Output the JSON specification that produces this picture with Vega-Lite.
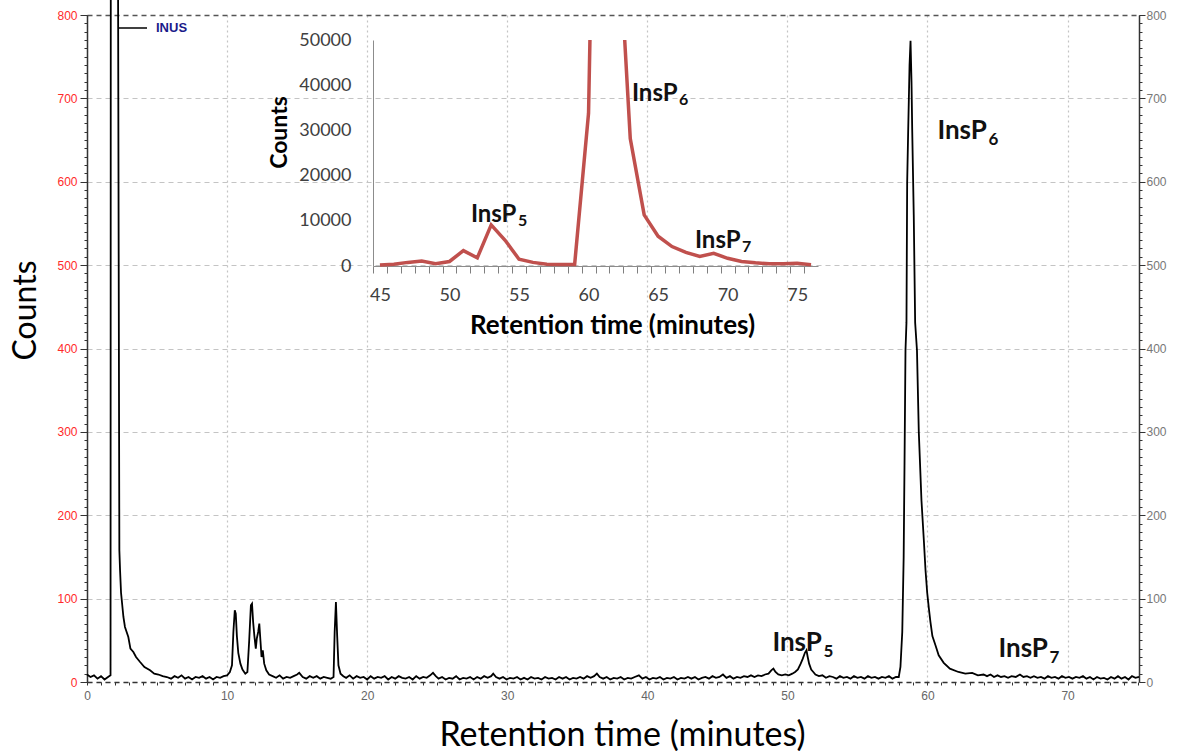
{
  "$schema": "https://vega.github.io/schema/vega-lite/v6.json",
  "width": 1052,
  "height": 667,
  "autosize": {"type": "none"},
  "padding": {"left": 87, "top": 15, "right": 49, "bottom": 69},
  "background": "white",
  "config": {
    "view": {"stroke": null},
    "axis": {"labelFont": "Liberation Sans", "titleFont": "Lato", "labelOverlap": false, "labelFlush": false}
  },
  "datasets": {
    "main": [
      {"t":0,"c":9},{"t":0.25,"c":6},{"t":0.5,"c":8},{"t":0.75,"c":4},{"t":1.0,"c":7},{"t":1.25,"c":3},{"t":1.5,"c":6},{"t":1.68,"c":8},
      {"t":1.71,"c":1400},{"t":1.95,"c":1500},{"t":2.14,"c":1400},
      {"t":2.31,"c":158},{"t":2.36,"c":134},{"t":2.43,"c":107},{"t":2.6,"c":78},{"t":2.71,"c":66},{"t":2.95,"c":54},{"t":3.1,"c":40},{"t":3.31,"c":36},{"t":3.5,"c":30},{"t":3.79,"c":24},{"t":4.1,"c":18},{"t":4.5,"c":14},{"t":4.8,"c":10},{"t":5.1,"c":9},{"t":5.4,"c":7},{"t":5.7,"c":6},
      {"t":6.0,"c":4},{"t":6.25,"c":7},{"t":6.5,"c":5},{"t":6.75,"c":8},{"t":7.0,"c":4},{"t":7.25,"c":6},{"t":7.5,"c":3},{"t":7.75,"c":6},{"t":8.0,"c":5},{"t":8.25,"c":7},{"t":8.5,"c":4},{"t":8.75,"c":6},{"t":9.0,"c":3},{"t":9.25,"c":6},{"t":9.5,"c":5},{"t":9.75,"c":7},{"t":10.0,"c":8},{"t":10.2,"c":12},
      {"t":10.35,"c":20},{"t":10.45,"c":60},{"t":10.55,"c":86},{"t":10.62,"c":82},{"t":10.7,"c":55},{"t":10.8,"c":35},{"t":10.95,"c":22},{"t":11.1,"c":15},{"t":11.3,"c":10},{"t":11.45,"c":12},
      {"t":11.58,"c":50},{"t":11.7,"c":92},{"t":11.78,"c":94},{"t":11.86,"c":72},{"t":11.95,"c":55},{"t":12.05,"c":40},{"t":12.12,"c":52},{"t":12.22,"c":60},{"t":12.3,"c":70},{"t":12.38,"c":50},{"t":12.46,"c":30},{"t":12.55,"c":38},{"t":12.65,"c":22},{"t":12.8,"c":14},{"t":13.0,"c":9},{"t":13.25,"c":7},
      {"t":13.5,"c":5},{"t":13.75,"c":8},{"t":14.0,"c":4},{"t":14.25,"c":6},{"t":14.5,"c":5},{"t":14.75,"c":7},{"t":15.0,"c":9},{"t":15.15,"c":11},{"t":15.4,"c":6},{"t":15.65,"c":4},{"t":15.9,"c":7},{"t":16.15,"c":5},{"t":16.4,"c":7},{"t":16.65,"c":4},{"t":16.9,"c":6},{"t":17.15,"c":5},{"t":17.4,"c":4},{"t":17.6,"c":6},
      {"t":17.68,"c":60},{"t":17.77,"c":96},{"t":17.86,"c":55},{"t":17.95,"c":20},{"t":18.1,"c":10},{"t":18.3,"c":7},
      {"t":18.5,"c":5},{"t":18.75,"c":8},{"t":19.0,"c":4},{"t":19.25,"c":7},{"t":19.5,"c":5},{"t":19.75,"c":6},{"t":20.0,"c":3},{"t":20.25,"c":7},{"t":20.5,"c":4},{"t":20.75,"c":6},{"t":21.0,"c":5},{"t":21.25,"c":7},{"t":21.5,"c":3},{"t":21.75,"c":6},{"t":22.0,"c":4},{"t":22.25,"c":7},{"t":22.5,"c":5},{"t":22.75,"c":4},{"t":23.0,"c":6},{"t":23.25,"c":3},{"t":23.5,"c":7},{"t":23.75,"c":4},{"t":24.0,"c":6},{"t":24.25,"c":5},{"t":24.5,"c":8},{"t":24.7,"c":11},{"t":24.9,"c":7},
      {"t":25.1,"c":4},{"t":25.35,"c":6},{"t":25.6,"c":3},{"t":25.85,"c":5},{"t":26.1,"c":4},{"t":26.35,"c":7},{"t":26.6,"c":3},{"t":26.85,"c":5},{"t":27.1,"c":4},{"t":27.35,"c":6},{"t":27.6,"c":3},{"t":27.85,"c":6},{"t":28.1,"c":4},{"t":28.35,"c":7},{"t":28.6,"c":5},{"t":28.85,"c":7},{"t":29.0,"c":10},{"t":29.2,"c":6},{"t":29.45,"c":4},{"t":29.7,"c":6},{"t":29.95,"c":3},
      {"t":30.2,"c":5},{"t":30.45,"c":4},{"t":30.7,"c":6},{"t":30.95,"c":3},{"t":31.2,"c":5},{"t":31.45,"c":3},{"t":31.7,"c":6},{"t":31.95,"c":4},{"t":32.2,"c":5},{"t":32.45,"c":3},{"t":32.7,"c":6},{"t":32.95,"c":4},{"t":33.2,"c":5},{"t":33.45,"c":3},{"t":33.7,"c":6},{"t":33.95,"c":4},{"t":34.2,"c":6},{"t":34.45,"c":3},{"t":34.7,"c":5},{"t":34.95,"c":4},
      {"t":35.2,"c":6},{"t":35.45,"c":4},{"t":35.7,"c":7},{"t":35.95,"c":5},{"t":36.2,"c":7},{"t":36.4,"c":10},{"t":36.6,"c":6},{"t":36.85,"c":4},{"t":37.1,"c":6},{"t":37.35,"c":3},{"t":37.6,"c":5},{"t":37.85,"c":4},{"t":38.1,"c":6},{"t":38.35,"c":3},{"t":38.6,"c":5},{"t":38.85,"c":4},{"t":39.1,"c":6},{"t":39.4,"c":8},{"t":39.65,"c":4},{"t":39.9,"c":6},
      {"t":40.15,"c":3},{"t":40.4,"c":5},{"t":40.65,"c":4},{"t":40.9,"c":6},{"t":41.15,"c":3},{"t":41.4,"c":5},{"t":41.65,"c":4},{"t":41.9,"c":6},{"t":42.15,"c":3},{"t":42.4,"c":5},{"t":42.65,"c":4},{"t":42.9,"c":6},{"t":43.15,"c":4},{"t":43.4,"c":6},{"t":43.65,"c":3},{"t":43.9,"c":5},{"t":44.15,"c":6},{"t":44.4,"c":4},{"t":44.65,"c":7},{"t":44.9,"c":5},
      {"t":45.15,"c":6},{"t":45.4,"c":9},{"t":45.65,"c":5},{"t":45.9,"c":7},{"t":46.15,"c":4},{"t":46.4,"c":6},{"t":46.65,"c":5},{"t":46.9,"c":7},{"t":47.15,"c":6},{"t":47.4,"c":8},{"t":47.65,"c":6},{"t":47.9,"c":8},{"t":48.15,"c":7},{"t":48.4,"c":9},{"t":48.65,"c":10},{"t":48.85,"c":14},{"t":49.0,"c":16},{"t":49.15,"c":12},{"t":49.35,"c":9},{"t":49.6,"c":8},{"t":49.85,"c":9},
      {"t":50.1,"c":8},{"t":50.35,"c":10},{"t":50.55,"c":12},{"t":50.75,"c":15},{"t":50.95,"c":22},{"t":51.1,"c":28},{"t":51.25,"c":35},{"t":51.36,"c":38},{"t":51.45,"c":30},{"t":51.55,"c":22},{"t":51.7,"c":15},{"t":51.85,"c":12},{"t":52.0,"c":9},{"t":52.25,"c":7},{"t":52.5,"c":8},{"t":52.75,"c":5},{"t":53.0,"c":7},{"t":53.25,"c":6},{"t":53.5,"c":4},{"t":53.75,"c":7},
      {"t":54.0,"c":5},{"t":54.25,"c":6},{"t":54.5,"c":4},{"t":54.75,"c":7},{"t":55.0,"c":5},{"t":55.25,"c":6},{"t":55.5,"c":4},{"t":55.75,"c":7},{"t":56.0,"c":5},{"t":56.25,"c":6},{"t":56.5,"c":4},{"t":56.75,"c":6},{"t":57.0,"c":5},{"t":57.25,"c":7},{"t":57.5,"c":4},{"t":57.75,"c":6},{"t":57.95,"c":6},
      {"t":58.07,"c":18},{"t":58.2,"c":60},{"t":58.3,"c":150},{"t":58.36,"c":260},{"t":58.43,"c":398},{"t":58.5,"c":431},{"t":58.55,"c":599},{"t":58.62,"c":659},{"t":58.72,"c":740},{"t":58.79,"c":769},{"t":58.86,"c":720},{"t":58.91,"c":662},{"t":59.02,"c":560},{"t":59.12,"c":431},{"t":59.25,"c":398},{"t":59.38,"c":300},{"t":59.57,"c":218},{"t":59.74,"c":170},{"t":59.86,"c":134},{"t":59.98,"c":107},{"t":60.1,"c":88},{"t":60.21,"c":72},{"t":60.35,"c":55},{"t":60.57,"c":44},{"t":60.8,"c":32},{"t":61.16,"c":23},{"t":61.6,"c":16},{"t":62.21,"c":12},{"t":62.7,"c":10},{"t":63.19,"c":11},{"t":63.6,"c":8},
      {"t":64.0,"c":9},{"t":64.25,"c":7},{"t":64.5,"c":9},{"t":64.75,"c":6},{"t":65.0,"c":8},{"t":65.25,"c":6},{"t":65.5,"c":7},{"t":65.75,"c":5},{"t":66.0,"c":7},{"t":66.3,"c":6},{"t":66.6,"c":9},{"t":66.85,"c":6},{"t":67.1,"c":7},{"t":67.35,"c":5},{"t":67.6,"c":7},{"t":67.85,"c":5},{"t":68.1,"c":6},{"t":68.35,"c":4},{"t":68.6,"c":7},{"t":68.85,"c":5},{"t":69.1,"c":6},{"t":69.35,"c":4},{"t":69.6,"c":7},{"t":69.85,"c":5},
      {"t":70.1,"c":6},{"t":70.35,"c":4},{"t":70.6,"c":6},{"t":70.85,"c":5},{"t":71.1,"c":7},{"t":71.35,"c":4},{"t":71.6,"c":6},{"t":71.85,"c":3},{"t":72.1,"c":6},{"t":72.35,"c":4},{"t":72.6,"c":5},{"t":72.85,"c":3},{"t":73.1,"c":6},{"t":73.35,"c":4},{"t":73.6,"c":7},{"t":73.85,"c":4},{"t":74.1,"c":6},{"t":74.35,"c":3},{"t":74.6,"c":7},{"t":74.85,"c":5},{"t":75.1,"c":6}
    ],
    "inset": [
      {"seg":"a","t":45,"c":200},{"seg":"a","t":46,"c":400},{"seg":"a","t":47,"c":800},{"seg":"a","t":48,"c":1100},{"seg":"a","t":49,"c":500},{"seg":"a","t":50,"c":1000},{"seg":"a","t":51,"c":3400},{"seg":"a","t":52,"c":1800},{"seg":"a","t":53,"c":9100},{"seg":"a","t":54,"c":5700},{"seg":"a","t":55,"c":1500},{"seg":"a","t":56,"c":800},{"seg":"a","t":57,"c":400},{"seg":"a","t":58,"c":350},{"seg":"a","t":59,"c":350},{"seg":"a","t":60,"c":33800},{"seg":"a","t":60.1,"c":50000},
      {"seg":"b","t":62.6,"c":50000},{"seg":"b","t":63,"c":28200},{"seg":"b","t":64,"c":11300},{"seg":"b","t":65,"c":6600},{"seg":"b","t":66,"c":4300},{"seg":"b","t":67,"c":3000},{"seg":"b","t":68,"c":2100},{"seg":"b","t":69,"c":2800},{"seg":"b","t":70,"c":1700},{"seg":"b","t":71,"c":1000},{"seg":"b","t":72,"c":700},{"seg":"b","t":73,"c":500},{"seg":"b","t":74,"c":500},{"seg":"b","t":75,"c":600},{"seg":"b","t":76,"c":300}
    ],
    "mainLabels": [
      {"t":60.71,"c":651,"txt":"InsP","sub":"6"},
      {"t":48.93,"c":37,"txt":"InsP","sub":"5"},
      {"t":65.07,"c":30,"txt":"InsP","sub":"7"}
    ],
    "insetLabels": [
      {"t":51.54,"c":9735,"txt":"InsP","sub":"5"},
      {"t":63.12,"c":36500,"txt":"InsP","sub":"6"},
      {"t":67.65,"c":3980,"txt":"InsP","sub":"7"}
    ]
  },
  "layer": [
    {
      "layer": [
        {
          "data": {"name": "main"},
          "mark": {"type": "line", "strokeWidth": 1.8, "clip": false},
          "encoding": {
            "x": {"field": "t", "type": "quantitative", "scale": {"domain": [0, 75.1], "nice": false, "zero": false},
              "axis": {"orient": "bottom", "values": [0,10,20,30,40,50,60,70], "grid": true, "gridDash": [2,3], "gridColor": "#c4c4c4", "gridWidth": 1.2, "domainDash": [5,4], "domainColor": "#333333", "domainWidth": 1.3, "tickSize": 0, "labelColor": "#666666", "labelFontSize": 12, "labelPadding": 8, "title": "Retention time (minutes)", "titleFontSize": 34, "titleFontWeight": "normal", "titleColor": "#000000", "titleX": 535, "titleY": 53, "titleBaseline": "middle"}},
            "y": {"field": "c", "type": "quantitative", "scale": {"domain": [0, 800], "nice": false},
              "axis": {"orient": "left", "values": [0,100,200,300,400,500,600,700,800], "grid": true, "gridDash": [5,4], "gridColor": {"condition": {"test": "datum.value === 800", "value": "#555555"}, "value": "#c4c4c4"}, "gridWidth": {"condition": {"test": "datum.value === 800", "value": 1.5}, "value": 1.2}, "domainColor": "#333333", "domainWidth": 1.5, "tickColor": "#333333", "tickSize": 7, "labelColor": "#ff2a2a", "labelFontSize": 12, "labelPadding": 3, "title": "Counts", "titleFontSize": 32, "titleFontWeight": "normal", "titleColor": "#000000", "titleX": -62, "titleY": 295, "titleBaseline": "middle", "titleAngle": -90}},
            "color": {"datum": "INUS", "scale": {"range": ["#000000"]},
              "legend": {"orient": "none", "legendX": 31, "legendY": -2, "title": null, "symbolType": "stroke", "symbolSize": 784, "symbolStrokeWidth": 1.5, "labelFont": "Liberation Sans", "labelFontWeight": "bold", "labelFontSize": 13, "labelColor": "#1a1a8a", "padding": 0, "labelOffset": 8}}
          }
        },
        {
          "data": {"name": "mainLabels"},
          "mark": {"type": "text", "align": "left", "baseline": "alphabetic", "font": "Lato", "fontWeight": "bold", "fontSize": 26, "color": "#111111"},
          "encoding": {
            "x": {"field": "t", "type": "quantitative", "scale": {"domain": [0, 75.1], "nice": false, "zero": false},
              "axis": {"orient": "bottom", "values": [0,1,2,3,4,5,6,7,8,9,10,11,12,13,14,15,16,17,18,19,20,21,22,23,24,25,26,27,28,29,30,31,32,33,34,35,36,37,38,39,40,41,42,43,44,45,46,47,48,49,50,51,52,53,54,55,56,57,58,59,60,61,62,63,64,65,66,67,68,69,70,71,72,73,74,75], "labels": false, "grid": false, "domain": false, "tickSize": 3, "tickColor": "#333333", "title": null}},
            "y": {"field": "c", "type": "quantitative", "scale": {"domain": [0, 800], "nice": false},
              "axis": {"orient": "left", "values": [0,10,20,30,40,50,60,70,80,90,100,110,120,130,140,150,160,170,180,190,200,210,220,230,240,250,260,270,280,290,300,310,320,330,340,350,360,370,380,390,400,410,420,430,440,450,460,470,480,490,500,510,520,530,540,550,560,570,580,590,600,610,620,630,640,650,660,670,680,690,700,710,720,730,740,750,760,770,780,790,800], "labels": false, "grid": false, "domain": false, "tickSize": 3, "tickColor": "#333333", "title": null}},
            "text": {"field": "txt"}
          }
        },
        {
          "data": {"name": "mainLabels"},
          "mark": {"type": "text", "align": "left", "baseline": "alphabetic", "font": "Lato", "fontWeight": "bold", "fontSize": 17, "color": "#111111", "dx": 51, "dy": 6},
          "encoding": {
            "x": {"field": "t", "type": "quantitative", "scale": {"domain": [0, 75.1], "nice": false, "zero": false}, "axis": null},
            "y": {"field": "c", "type": "quantitative", "scale": {"domain": [0, 800], "nice": false},
              "axis": {"orient": "right", "values": [0,100,200,300,400,500,600,700,800], "grid": false, "domainColor": "#333333", "domainWidth": 1.5, "tickColor": "#333333", "tickSize": 6, "labelColor": "#777777", "labelFontSize": 12, "labelPadding": 1, "title": null}},
            "text": {"field": "sub"}
          }
        },
        {
          "data": {"name": "mainLabels"},
          "mark": {"type": "point", "opacity": 0},
          "encoding": {
            "x": {"field": "t", "type": "quantitative", "scale": {"domain": [0, 75.1], "nice": false, "zero": false}, "axis": null},
            "y": {"field": "c", "type": "quantitative", "scale": {"domain": [0, 800], "nice": false},
              "axis": {"orient": "right", "values": [0,10,20,30,40,50,60,70,80,90,100,110,120,130,140,150,160,170,180,190,200,210,220,230,240,250,260,270,280,290,300,310,320,330,340,350,360,370,380,390,400,410,420,430,440,450,460,470,480,490,500,510,520,530,540,550,560,570,580,590,600,610,620,630,640,650,660,670,680,690,700,710,720,730,740,750,760,770,780,790,800], "labels": false, "grid": false, "domain": false, "tickSize": 3, "tickColor": "#333333", "title": null}}
          }
        }
      ],
      "resolve": {"axis": {"x": "independent", "y": "independent"}}
    },
    {
      "layer": [
        {
          "data": {"name": "inset"},
          "mark": {"type": "line", "color": "#C0504D", "strokeWidth": 3.5, "clip": false},
          "encoding": {
            "x": {"field": "t", "type": "quantitative", "scale": {"domain": [44.5, 76.5], "range": [286, 731], "nice": false, "zero": false},
              "axis": {"orient": "bottom", "offset": -416, "values": [45,46,47,48,49,50,51,52,53,54,55,56,57,58,59,60,61,62,63,64,65,66,67,68,69,70,71,72,73,74,75,76], "labelExpr": "datum.value % 5 === 0 ? datum.label : ''", "tickOffset": -6.95, "labelOffset": 6.95, "tickSize": 7, "tickColor": "#7f7f7f", "domainColor": "#8c8c8c", "grid": false, "labelFont": "Lato", "labelFontSize": 18, "labelColor": "#404040", "labelPadding": 13, "title": "Retention time (minutes)", "titleFont": "Lato", "titleFontSize": 26, "titleFontWeight": "bold", "titleColor": "#000000", "titleX": 525, "titleY": 59, "titleBaseline": "middle"}},
            "y": {"field": "c", "type": "quantitative", "scale": {"domain": [0, 50000], "range": [251, 25], "nice": false},
              "axis": {"orient": "left", "offset": -286, "values": [0,10000,20000,30000,40000,50000], "format": "d", "ticks": false, "grid": false, "domainColor": "#8c8c8c", "labelFont": "Lato", "labelFontSize": 18, "labelColor": "#404040", "labelPadding": 22, "title": "Counts", "titleFont": "Lato", "titleFontSize": 23, "titleFontWeight": "bold", "titleColor": "#000000", "titleX": -94, "titleY": 117, "titleAngle": -90, "titleBaseline": "middle"}},
            "detail": {"field": "seg"}
          }
        },
        {
          "data": {"name": "insetLabels"},
          "mark": {"type": "text", "align": "left", "baseline": "alphabetic", "font": "Lato", "fontWeight": "bold", "fontSize": 24, "color": "#111111"},
          "encoding": {
            "x": {"field": "t", "type": "quantitative", "scale": {"domain": [44.5, 76.5], "range": [286, 731], "nice": false, "zero": false}, "axis": null},
            "y": {"field": "c", "type": "quantitative", "scale": {"domain": [0, 50000], "range": [251, 25], "nice": false}, "axis": null},
            "text": {"field": "txt"}
          }
        },
        {
          "data": {"name": "insetLabels"},
          "mark": {"type": "text", "align": "left", "baseline": "alphabetic", "font": "Lato", "fontWeight": "bold", "fontSize": 16, "color": "#111111", "dx": 47, "dy": 4},
          "encoding": {
            "x": {"field": "t", "type": "quantitative", "scale": {"domain": [44.5, 76.5], "range": [286, 731], "nice": false, "zero": false}, "axis": null},
            "y": {"field": "c", "type": "quantitative", "scale": {"domain": [0, 50000], "range": [251, 25], "nice": false}, "axis": null},
            "text": {"field": "sub"}
          }
        }
      ],
      "resolve": {"axis": {"x": "independent", "y": "independent"}}
    }
  ],
  "resolve": {"scale": {"x": "independent", "y": "independent"}, "axis": {"x": "independent", "y": "independent"}}
}
